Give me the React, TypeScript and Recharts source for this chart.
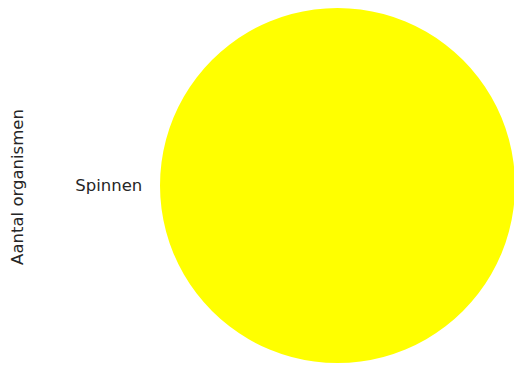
import React from 'react';
import { PieChart, Pie, Cell } from 'recharts';

const categories = ['Spinnen'];
const counts = [1];
const colors = ['#ffff00'];

const data = categories.map((name, i) => ({ name, value: counts[i] }));

const CX = 337.5;
const CY = 185.5;
const R = 177.5;
const RADIAN = Math.PI / 180;

const renderLabel = (props: any) => {
  const { midAngle, name } = props;
  const r = R * 1.1;
  const x = CX + r * Math.cos(-midAngle * RADIAN);
  const y = CY + r * Math.sin(-midAngle * RADIAN);
  return (
    <text
      x={x}
      y={y}
      fill="#262626"
      fontSize={16.5}
      fontFamily="DejaVu Sans"
      textAnchor={x < CX ? 'end' : 'start'}
      dominantBaseline="central"
    >
      {name}
    </text>
  );
};

export default function App() {
  return (
    <div style={{ position: 'absolute', left: 0, top: 0, width: 514, height: 365, background: '#fff' }}>
      <PieChart width={514} height={365} margin={{ top: 0, right: 0, bottom: 0, left: 0 }}>
        <Pie
          data={data}
          dataKey="value"
          nameKey="name"
          cx={CX}
          cy={CY}
          outerRadius={R}
          startAngle={0}
          endAngle={360}
          stroke="none"
          label={renderLabel}
          labelLine={false}
          isAnimationActive={false}
        >
          {data.map((d, i) => (
            <Cell key={d.name} fill={colors[i]} />
          ))}
        </Pie>
      </PieChart>
      <div
        style={{
          position: 'absolute',
          left: 17,
          top: 187,
          transform: 'translate(-50%, -50%) rotate(-90deg)',
          whiteSpace: 'nowrap',
          fontFamily: 'DejaVu Sans',
          fontSize: 16.5,
          color: '#262626',
        }}
      >
        Aantal organismen
      </div>
    </div>
  );
}
